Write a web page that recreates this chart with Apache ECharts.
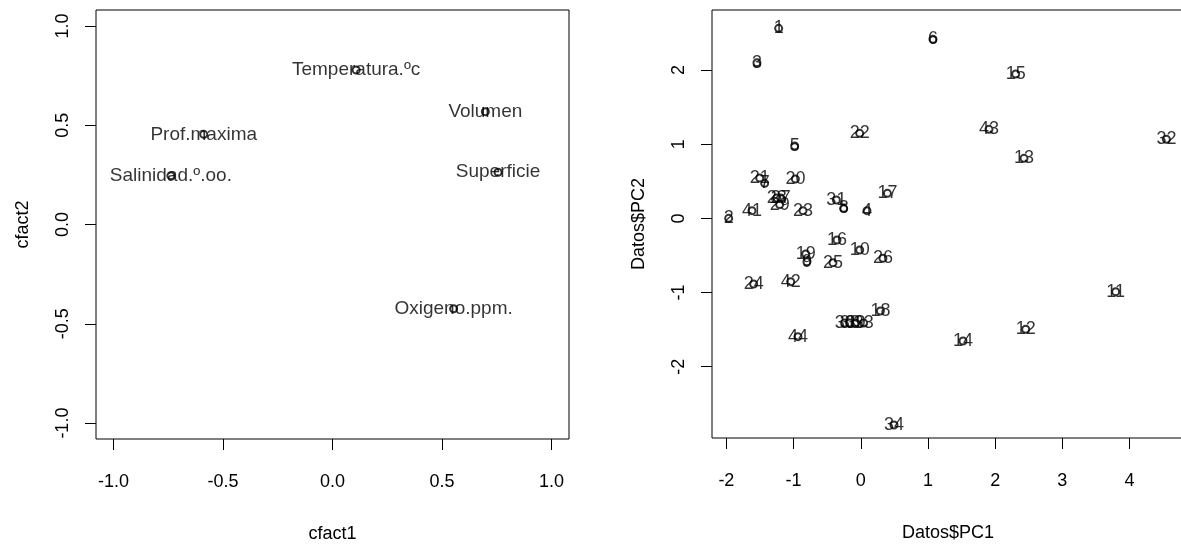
<!DOCTYPE html>
<html>
<head>
<meta charset="utf-8">
<script src="https://cdn.jsdelivr.net/npm/echarts@6/dist/echarts.min.js"></script>
<style>
  html, body { margin: 0; padding: 0; background: #fff; }
  #main { width: 1181px; height: 544px; }
</style>
</head>
<body>
<div id="main"></div>
<script>
  // panel izquierdo: cargas de las variables
  var varNames = ['Temperatura.ºc', 'Volumen', 'Prof.maxima', 'Salinidad.º.oo.', 'Superficie', 'Oxigeno.ppm.'];
  var cfact1 = [0.108, 0.698, -0.588, -0.738, 0.756, 0.553];
  var cfact2 = [0.778, 0.568, 0.454, 0.246, 0.263, -0.424];

  // panel derecho: puntajes de las observaciones
  var obsIds = ['1', '2', '3', '4', '5', '6', '7', '8', '9', '10', '11', '12', '13', '14', '15', '16',
    '17', '18', '19', '20', '21', '22', '23', '24', '25', '26', '27', '28', '29', '30', '31', '32',
    '33', '34', '38', '39', '41', '42', '43', '44'];
  var pc1 = [-1.222, -1.966, -1.545, 0.092, -0.984, 1.074, -1.430, -0.254, -0.801, -0.016, 3.793, 2.454,
    2.429, 1.521, 2.305, -0.354, 0.396, 0.292, -0.820, -0.973, -1.504, -0.016, -0.860, -1.594, -0.414,
    0.330, -1.192, -1.251, -1.207, -0.240, -0.363, 4.548, 0.043, 0.494, -0.165, -0.076, -1.619, -1.043,
    1.908, -0.935];
  var pc2 = [2.563, 0.001, 2.099, 0.104, 0.976, 2.415, 0.473, 0.136, -0.584, -0.426, -0.988, -1.495,
    0.810, -1.653, 1.947, -0.291, 0.338, -1.249, -0.480, 0.531, 0.545, 1.147, 0.104, -0.884, -0.597,
    -0.538, 0.275, 0.275, 0.187, -1.410, 0.248, 1.066, -1.410, -2.786, -1.410, -1.410, 0.104, -0.853,
    1.201, -1.595];

  var leftTicks = [-1, -0.5, 0, 0.5, 1];
  var pcXTicks = [-2, -1, 0, 1, 2, 3, 4];
  var pcYTicks = [-2, -1, 0, 1, 2];

  var font = 'Liberation Sans, Arial, sans-serif';

  function toPoints(xs, ys, names) {
    return xs.map(function (x, i) {
      return { name: names[i], value: [x, ys[i]] };
    });
  }

  function makeX(idx, min, max, ticks, name, fmt) {
    return {
      gridIndex: idx, type: 'value', min: min, max: max,
      name: name, nameLocation: 'middle', nameGap: 86,
      nameTextStyle: { fontFamily: font, fontSize: 18, color: '#000' },
      axisLine: { show: false, onZero: false },
      axisTick: { show: true, length: 11, customValues: ticks, lineStyle: { color: '#000', width: 1 } },
      axisLabel: { customValues: ticks, margin: 34, fontFamily: font, fontSize: 18, color: '#000', formatter: fmt },
      splitLine: { show: false }
    };
  }

  function makeY(idx, min, max, ticks, name, fmt) {
    return {
      gridIndex: idx, type: 'value', min: min, max: max,
      name: name, nameLocation: 'middle', nameGap: 64, nameRotate: 90,
      nameTextStyle: { fontFamily: font, fontSize: 18, color: '#000' },
      axisLine: { show: false, onZero: false },
      axisTick: { show: true, length: 11, customValues: ticks, lineStyle: { color: '#000', width: 1 } },
      axisLabel: { customValues: ticks, rotate: 90, margin: 24, fontFamily: font, fontSize: 18, color: '#000', formatter: fmt },
      splitLine: { show: false }
    };
  }

  var oneDec = function (v) { return v.toFixed(1); };
  var noDec = function (v) { return String(Math.round(v)); };

  function labelStyle(size) {
    return {
      show: true, position: 'inside', formatter: '{b}',
      fontFamily: font, fontSize: size, color: '#000',
      textBorderWidth: 0, textShadowBlur: 0
    };
  }

  var chart = echarts.init(document.getElementById('main'), null, { renderer: 'canvas' });
  chart.setOption({
    backgroundColor: '#fff',
    animation: false,
    grid: [
      { left: 96, top: 10, width: 473, height: 429, outerBoundsMode: 'none', containLabel: false,
        show: true, borderColor: '#000', borderWidth: 1, backgroundColor: 'transparent' },
      { left: 712, top: 10, width: 472, height: 428, outerBoundsMode: 'none', containLabel: false,
        show: true, borderColor: '#000', borderWidth: 1, backgroundColor: 'transparent' }
    ],
    xAxis: [
      makeX(0, -1.08, 1.08, leftTicks, 'cfact1', oneDec),
      makeX(1, -2.214, 4.81, pcXTicks, 'Datos$PC1', noDec)
    ],
    yAxis: [
      makeY(0, -1.08, 1.08, leftTicks, 'cfact2', oneDec),
      makeY(1, -2.961, 2.81, pcYTicks, 'Datos$PC2', noDec)
    ],
    series: [{
      type: 'scatter', xAxisIndex: 0, yAxisIndex: 0,
      symbol: 'emptyCircle', symbolSize: 7,
      itemStyle: { color: '#000', borderColor: '#000', borderWidth: 1 },
      label: labelStyle(19),
      data: toPoints(cfact1, cfact2, varNames)
    }, {
      type: 'scatter', xAxisIndex: 1, yAxisIndex: 1,
      symbol: 'emptyCircle', symbolSize: 7,
      itemStyle: { color: '#000', borderColor: '#000', borderWidth: 1 },
      label: labelStyle(18),
      data: toPoints(pc1, pc2, obsIds)
    }]
  });
</script>
</body>
</html>
